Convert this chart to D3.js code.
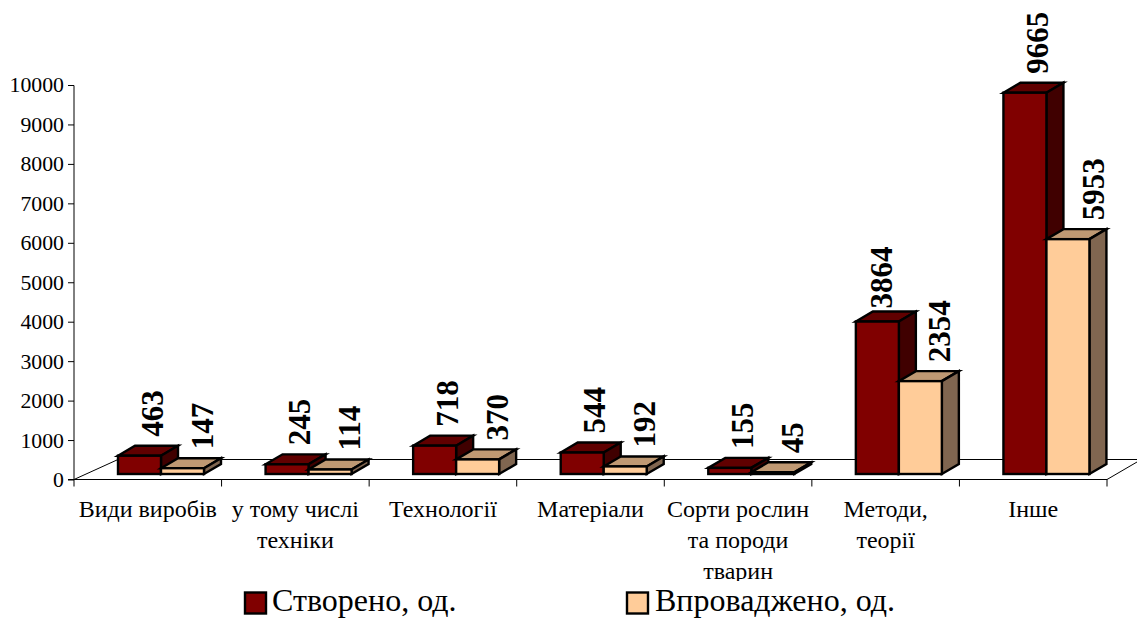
<!DOCTYPE html>
<html><head><meta charset="utf-8">
<script src="https://cdn.jsdelivr.net/npm/d3@7/dist/d3.min.js"></script>
<style>html,body{margin:0;padding:0;background:#fff}svg{display:block}text{font-family:"Liberation Serif",serif;fill:#000}</style>
</head><body><svg id="c" width="1137" height="618"></svg>
<script>
const categories = [["Види виробів"],["у тому числі","техніки"],["Технології"],["Матеріали"],["Сорти рослин","та породи","тварин"],["Методи,","теорії"],["Інше"]];
const created = [463,245,718,544,155,3864,9665];
const implemented = [147,114,370,192,45,2354,5953];
const seriesNames = ["Створено, од.","Впроваджено, од."];
const yTicks = [0,1000,2000,3000,4000,5000,6000,7000,8000,9000,10000];

const svg = d3.select("#c");
const x = d3.scaleBand().domain(d3.range(categories.length)).range([74,1107]).paddingInner(0).paddingOuter(0);
const y = d3.scaleLinear().domain([0,10000]).range([479.5,85]);
const barH = d3.scaleLinear().domain([0,10000]).range([0,394.5]);
const base = 474, depthX = 17, depthY = 10, barW = 43, inset = 44;
const palettes = [
  {front:"#800000", top:"#600000", side:"#400000", dx:4},
  {front:"#FFCC99", top:"#BF9973", side:"#806650", dx:11}
];
// hand placement of the two labels that sit apart from the rest in the reference
const labelNudge = {"0:5":[-8,6],"1:6":[6,0]};

// floor
const floor = svg.append("g").attr("stroke","#000").attr("stroke-width",1).attr("fill","none");
floor.append("path").attr("d",`M74,479.5L118,459.5L1137,459.5`);
floor.append("path").attr("d",`M1107,479.5L1137,462`);

// axes
const ax = svg.append("g").attr("transform","translate(74,0)")
  .call(d3.axisLeft(y).tickValues(yTicks).tickSize(6).tickPadding(4).tickFormat(d3.format("d")));
ax.selectAll("path,line").attr("stroke","#000").attr("stroke-width",1);
ax.selectAll("text").style("font-size","21.8px").style("font-family",'"Liberation Serif",serif').attr("fill","#000");
ax.select("path").attr("d","M-6,85.5H0V479.5H-6");

const xa = svg.append("g").attr("transform","translate(0,479.5)");
xa.append("path").attr("d","M74,0H1107").attr("stroke","#000");
xa.selectAll("line").data(d3.range(categories.length+1)).join("line")
  .attr("x1",i=>i<categories.length?x(i):x.range()[1]).attr("x2",i=>i<categories.length?x(i):x.range()[1])
  .attr("y1",0).attr("y2",7).attr("stroke","#000");

// category labels, clipped as in the reference
svg.append("defs").append("clipPath").attr("id","lab").append("rect").attr("x",0).attr("y",490).attr("width",1137).attr("height",91);
const labs = svg.append("g").attr("clip-path","url(#lab)");
categories.forEach((lines,i)=>{
  lines.forEach((t,j)=>{
    labs.append("text").attr("x",x(i)+x.bandwidth()/2).attr("y",517+j*31)
      .attr("text-anchor","middle").style("font-size","24px").text(t);
  });
});

// bars
const series = [created,implemented];
const bars = svg.append("g").attr("stroke","#000").attr("stroke-width",2.4).attr("stroke-linejoin","miter");
categories.forEach((_,i)=>{
  [0,1].forEach(s=>{
    const v = series[s][i], p = palettes[s];
    const x0 = x(i)+inset+s*barW, x1 = x0+barW, t = base-barH(v);
    bars.append("path").attr("fill",p.top).attr("d",`M${x0},${t}L${x0+depthX},${t-depthY}H${x1+depthX}L${x1},${t}Z`);
    bars.append("path").attr("fill",p.side).attr("d",`M${x1},${t}L${x1+depthX},${t-depthY}V${base-depthY}L${x1},${base}Z`);
    bars.append("rect").attr("fill",p.front).attr("x",x0).attr("y",t).attr("width",barW).attr("height",barH(v));
  });
});

// value labels
series.forEach((vals,s)=>{
  vals.forEach((v,i)=>{
    const x0 = x(i)+inset+s*barW;
    const cx = x0+(barW+depthX)/2+palettes[s].dx;
    const yb = base-barH(v)-depthY-9;
    const [nx,ny] = labelNudge[s+":"+i] || [0,0];
    svg.append("text").attr("transform",`translate(${cx+10.5+nx},${yb+ny}) rotate(-90)`)
      .style("font-size","31px").style("font-weight","bold").text(v);
  });
});

// legend
const lg = svg.append("g");
[[245,272],[627,655]].forEach(([sx,tx],i)=>{
  lg.append("rect").attr("x",sx).attr("y",592.5).attr("width",21).attr("height",21)
    .attr("fill",palettes[i].front).attr("stroke","#000").attr("stroke-width",2.4);
  lg.append("text").attr("x",tx).attr("y",611).style("font-size","32px").text(seriesNames[i]);
});
</script></body></html>
